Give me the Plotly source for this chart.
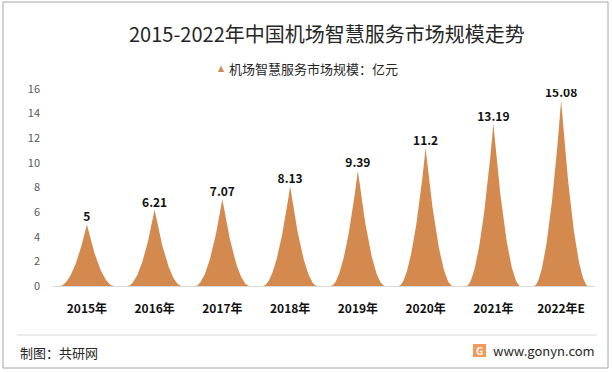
import numpy as np
import plotly.graph_objects as go

# ---- data ----
categories = ["2015年", "2016年", "2017年", "2018年", "2019年", "2020年", "2021年", "2022年E"]
values = [5, 6.21, 7.07, 8.13, 9.39, 11.2, 13.19, 15.08]
y_ticks = [0, 2, 4, 6, 8, 10, 12, 14, 16]
series_name = "机场智慧服务市场规模：亿元"
title_text = "2015-2022年中国机场智慧服务市场规模走势"
source_text = "制图：共研网"
site_text = "www.gonyn.com"

FONT = "Noto Sans CJK SC, Microsoft YaHei, sans-serif"
FILL = "#D48A4F"

W, H = 612, 372
ML, MR, MT, MB = 53, 17, 89, 86
PW, PH = W - ML - MR, H - MT - MB


def px_x(px):
    return (px - ML) / PW


def px_y(py):
    return (H - MB - py) / PH


# spike shapes built from the values
half = 0.4
power = 1.9
xs, ys = [], []
for i, v in enumerate(values):
    u = np.linspace(-half, half, 121)
    yy = v * (1 - np.abs(u) / half) ** power
    xs += list(i + u) + [None]
    ys += list(yy) + [None]

fig = go.Figure()
fig.add_trace(go.Scatter(
    x=xs, y=ys, mode="lines", fill="toself", fillcolor=FILL, name=series_name,
    line=dict(width=0, color=FILL), showlegend=False, hoverinfo="skip"))

fig.add_trace(go.Scatter(
    x=list(range(len(values))), y=values, mode="text",
    text=[f"{v:g}" for v in values], textposition="top center",
    textfont=dict(family=FONT, size=12, color="#111111", weight="bold"),
    showlegend=False, hoverinfo="skip"))

shapes = [
    # outer border
    dict(type="rect", xref="paper", yref="paper",
         x0=px_x(3), x1=px_x(608), y0=px_y(368), y1=px_y(2),
         line=dict(color="#A6A6A6", width=1), fillcolor="rgba(0,0,0,0)", layer="below"),
    # footer separator
    dict(type="line", xref="paper", yref="paper",
         x0=px_x(17), x1=px_x(597), y0=px_y(335), y1=px_y(335),
         line=dict(color="#D9D9D9", width=1)),
    # logo square
    dict(type="rect", xref="paper", yref="paper",
         x0=px_x(473), x1=px_x(486), y0=px_y(357), y1=px_y(344),
         line=dict(width=0), fillcolor="#F39A5A"),
]

annotations = [
    dict(text=title_text, xref="paper", yref="paper", x=px_x(327), y=px_y(34),
         xanchor="center", yanchor="middle", showarrow=False,
         font=dict(family=FONT, size=20, color="#262626")),
    # legend: marker + label
    dict(text="▲", xref="paper", yref="paper", x=px_x(221), y=px_y(69),
         xanchor="center", yanchor="middle", showarrow=False,
         font=dict(family="DejaVu Sans", size=8, color=FILL)),
    dict(text=series_name, xref="paper", yref="paper", x=px_x(227), y=px_y(68),
         xanchor="left", yanchor="middle", showarrow=False,
         font=dict(family=FONT, size=13, color="#262626")),
    dict(text=source_text, xref="paper", yref="paper", x=px_x(18), y=px_y(352),
         xanchor="left", yanchor="middle", showarrow=False,
         font=dict(family=FONT, size=13, color="#262626")),
    dict(text=site_text, xref="paper", yref="paper", x=px_x(491), y=px_y(350),
         xanchor="left", yanchor="middle", showarrow=False,
         font=dict(family=FONT, size=13, color="#262626")),
    dict(text="<b>G</b>", xref="paper", yref="paper", x=px_x(479.5), y=px_y(350.5),
         xanchor="center", yanchor="middle", showarrow=False,
         font=dict(family=FONT, size=10, color="#FFFFFF")),
]

fig.update_layout(
    width=W, height=H,
    margin=dict(l=ML, r=MR, t=MT, b=MB),
    paper_bgcolor="#FFFFFF", plot_bgcolor="#FFFFFF",
    font=dict(family=FONT),
    shapes=shapes, annotations=annotations,
    showlegend=False,
    xaxis=dict(range=[-0.5, len(values) - 0.5], tickvals=list(range(len(values))),
               ticktext=[f"<b>{c}</b>" for c in categories],
               showgrid=False, zeroline=False, showline=True, linecolor="#D9D9D9", linewidth=1,
               ticks="", ticklabelstandoff=12,
               tickfont=dict(family=FONT, size=12, color="#111111"), fixedrange=True),
    yaxis=dict(range=[0, 16], tickvals=y_ticks, showgrid=False, zeroline=False, showline=False,
               ticks="", ticklabelstandoff=12,
               tickfont=dict(family=FONT, size=11, color="#595959"), fixedrange=True),
)

fig.write_html("out.html", config={"displayModeBar": False},
               post_script="document.body.style.margin='0';document.body.style.padding='0';")
